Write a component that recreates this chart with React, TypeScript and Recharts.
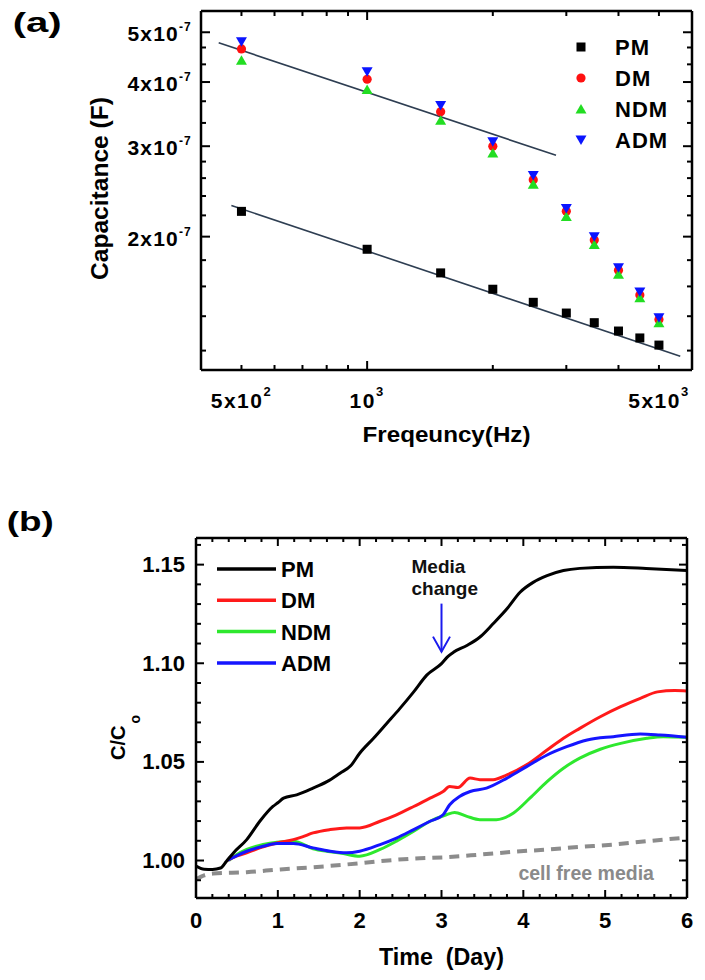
import React from 'react';
import { ComposedChart, Scatter, Line, XAxis, YAxis, Legend, ReferenceDot, Label } from 'recharts';

const FONT = '"Liberation Sans", Arial, Helvetica, sans-serif';

// ---------- (a) capacitance vs frequency (capacitance in units of 1e-7 F) ----------
const freqs = [500, 1000, 1500, 2000, 2500, 3000, 3500, 4000, 4500, 5000];
const capPM = [2.24, 1.89, 1.7, 1.58, 1.49, 1.42, 1.36, 1.31, 1.27, 1.23];
const capDM = [4.64, 4.05, 3.5, 3.0, 2.58, 2.24, 1.97, 1.72, 1.54, 1.38];
const capNDM = [4.41, 3.87, 3.37, 2.91, 2.53, 2.19, 1.93, 1.69, 1.52, 1.36];
const capADM = [4.79, 4.19, 3.6, 3.06, 2.63, 2.27, 2.0, 1.74, 1.56, 1.39];

// power-law fit lines (end points)
const fitUpperF = [441, 2834];
const fitUpperC = [4.77, 2.88];
const fitLowerF = [473, 5623];
const fitLowerC = [2.3, 1.17];

const freqTicks = [500, 600, 700, 800, 900, 1000, 2000, 3000, 4000, 5000];
const freqMajor = [1000];
const freqLabels: Record<number, [string, string]> = {
  500: ['5x10', '2'],
  1000: ['10', '3'],
  5000: ['5x10', '3'],
};
const capTicks = [1.2, 1.4, 1.6, 1.8, 2, 2.2, 2.4, 2.6, 2.8, 3, 3.33, 3.67, 4, 4.33, 4.67, 5];
const capLabeled = [2, 3, 4, 5];

// ---------- (b) normalised capacitance vs time ----------
const pmDays = [0, 0.1, 0.2, 0.3, 0.375, 0.46, 0.62, 0.78, 0.94, 1.0, 1.07, 1.23, 1.43, 1.6, 1.76, 1.89, 2.0, 2.17, 2.33, 2.49, 2.66, 2.82, 3.0, 3.08, 3.15, 3.31, 3.47, 3.63, 3.8, 3.96, 4.12, 4.29, 4.49, 4.69, 5.1, 5.5, 6.0];
const pmVals = [0.9972, 0.9956, 0.9955, 0.9962, 0.9998, 1.004, 1.0106, 1.0199, 1.0274, 1.0293, 1.0316, 1.0333, 1.0367, 1.04, 1.0443, 1.048, 1.0544, 1.062, 1.0695, 1.077, 1.0855, 1.094, 1.0998, 1.1035, 1.1057, 1.109, 1.1133, 1.12, 1.1276, 1.136, 1.141, 1.1444, 1.147, 1.1481, 1.1487, 1.1481, 1.147];

const dmDays = [0.38, 0.45, 0.62, 0.78, 0.99, 1.19, 1.3, 1.43, 1.64, 1.84, 2.0, 2.25, 2.45, 2.66, 2.86, 3.02, 3.1, 3.2, 3.35, 3.47, 3.63, 3.8, 4.04, 4.29, 4.49, 4.69, 4.94, 5.19, 5.43, 5.64, 5.85, 6.0];
const dmVals = [1.0, 1.0015, 1.0039, 1.0064, 1.0089, 1.0106, 1.012, 1.014, 1.0157, 1.0165, 1.0165, 1.0199, 1.0232, 1.0274, 1.0316, 1.035, 1.0375, 1.037, 1.0418, 1.041, 1.041, 1.0434, 1.0485, 1.056, 1.062, 1.067, 1.0729, 1.078, 1.0822, 1.0855, 1.0862, 1.086];

const ndmDays = [0.4, 0.5, 0.62, 0.82, 0.99, 1.19, 1.43, 1.64, 1.8, 2.0, 2.25, 2.45, 2.66, 2.86, 3.06, 3.16, 3.31, 3.47, 3.67, 3.88, 4.08, 4.29, 4.49, 4.69, 4.94, 5.19, 5.51, 5.71, 6.0];
const ndmVals = [1.0, 1.003, 1.0056, 1.0081, 1.0093, 1.0098, 1.006, 1.0045, 1.0035, 1.0022, 1.0056, 1.0098, 1.0148, 1.0199, 1.0232, 1.0244, 1.0224, 1.0207, 1.0207, 1.0241, 1.0316, 1.04, 1.0468, 1.0519, 1.0564, 1.0594, 1.062, 1.0628, 1.0625];

const admDays = [0.38, 0.5, 0.62, 0.82, 0.99, 1.19, 1.43, 1.64, 1.84, 2.0, 2.25, 2.45, 2.66, 2.86, 3.02, 3.1, 3.22, 3.35, 3.55, 3.8, 4.04, 4.29, 4.53, 4.78, 5.1, 5.43, 5.67, 6.0];
const admVals = [1.0, 1.0025, 1.0047, 1.0072, 1.0086, 1.0086, 1.0064, 1.0047, 1.0039, 1.0047, 1.0081, 1.0114, 1.0157, 1.0199, 1.0232, 1.0283, 1.0325, 1.035, 1.0367, 1.0418, 1.0476, 1.0535, 1.0577, 1.0611, 1.0628, 1.0641, 1.0636, 1.0625];

const freeDays = [0, 0.1, 0.21, 0.62, 1.03, 1.43, 1.84, 2.25, 2.66, 3.06, 3.47, 3.88, 4.29, 4.69, 5.1, 5.51, 5.95];
const freeVals = [0.9905, 0.9925, 0.9934, 0.9941, 0.9955, 0.9966, 0.998, 0.9997, 1.001, 1.0017, 1.003, 1.0044, 1.0056, 1.0069, 1.0081, 1.0098, 1.0115];

const dayTicks = [0, 0.2, 0.4, 0.6, 0.8, 1, 1.2, 1.4, 1.6, 1.8, 2, 2.2, 2.4, 2.6, 2.8, 3, 3.2, 3.4, 3.6, 3.8, 4, 4.2, 4.4, 4.6, 4.8, 5, 5.2, 5.4, 5.6, 5.8, 6];
const dayLabels = [0, 1, 2, 3, 4, 5, 6];
const ratioTicks = [0.99, 1.0, 1.01, 1.02, 1.03, 1.04, 1.05, 1.06, 1.07, 1.08, 1.09, 1.1, 1.11, 1.12, 1.13, 1.14, 1.15, 1.16];
const ratioLabels = [1.0, 1.05, 1.1, 1.15];

const capSeries = [
  { name: 'PM', kind: 'square', color: '#000000', values: capPM },
  { name: 'DM', kind: 'circle', color: '#ff1010', values: capDM },
  { name: 'NDM', kind: 'up', color: '#22dd22', values: capNDM },
  { name: 'ADM', kind: 'down', color: '#0a14ff', values: capADM },
];

const timeSeries = [
  { name: 'PM', color: '#000000', days: pmDays, values: pmVals },
  { name: 'DM', color: '#ff1a1a', days: dmDays, values: dmVals },
  { name: 'NDM', color: '#2ee82e', days: ndmDays, values: ndmVals },
  { name: 'ADM', color: '#1515ff', days: admDays, values: admVals },
];

const toPoints = (xs: number[], ys: number[]) => xs.map((x, i) => ({ x, y: ys[i] }));

function Marker({ kind, cx, cy, color }: { kind: string; cx: number; cy: number; color: string }) {
  if (kind === 'square') return <rect x={cx - 4.5} y={cy - 4.5} width={9} height={9} fill={color} />;
  if (kind === 'circle') return <circle cx={cx} cy={cy} r={4.6} fill={color} />;
  if (kind === 'up') return <path d={`M${cx - 5.5},${cy + 4.5}L${cx + 5.5},${cy + 4.5}L${cx},${cy - 5}Z`} fill={color} />;
  return <path d={`M${cx - 5.5},${cy - 4.5}L${cx + 5.5},${cy - 4.5}L${cx},${cy + 5}Z`} fill={color} />;
}

const txt = { fontFamily: FONT, fontWeight: 'bold' as const, fill: '#000' };

// ---- ticks for (a) ----
function FreqTick({ x, y, payload, side }: any) {
  const v = payload.value;
  const len = freqMajor.includes(v) ? 9 : 5;
  const lab = freqLabels[v];
  const dir = side === 'top' ? 1 : -1;
  return (
    <g>
      <line x1={x} y1={y} x2={x} y2={y + dir * len} stroke="#000" strokeWidth={2} />
      {side === 'bottom' && lab && (
        <text x={x} y={y + 38} textAnchor="middle" fontSize={21} letterSpacing={1.5} {...txt}>
          {lab[0]}
          <tspan fontSize={13} dy={-12}>{lab[1]}</tspan>
        </text>
      )}
    </g>
  );
}

function CapTick({ x, y, payload, side }: any) {
  const v = payload.value;
  const major = capLabeled.includes(v);
  const len = major ? 9 : 5;
  const dir = side === 'left' ? 1 : -1;
  return (
    <g>
      <line x1={x} y1={y} x2={x + dir * len} y2={y} stroke="#000" strokeWidth={2} />
      {side === 'left' && major && (
        <text x={x - 9} y={y + 9} textAnchor="end" fontSize={21} letterSpacing={1.2} {...txt}>
          {`${v}x10`}
          <tspan fontSize={12} dy={-10}>-7</tspan>
        </text>
      )}
    </g>
  );
}

// ---- ticks for (b) ----
function DayTick({ x, y, payload, side }: any) {
  const v = payload.value;
  const major = dayLabels.includes(v);
  const len = major ? 8 : 4;
  const dir = side === 'top' ? 1 : -1;
  return (
    <g>
      <line x1={x} y1={y} x2={x} y2={y + dir * len} stroke="#000" strokeWidth={2} />
      {side === 'bottom' && major && (
        <text x={x} y={y + 30} textAnchor="middle" fontSize={22} {...txt}>
          {v}
        </text>
      )}
    </g>
  );
}

function RatioTick({ x, y, payload, side }: any) {
  const v = payload.value;
  const major = ratioLabels.some((r) => Math.abs(r - v) < 1e-6);
  const len = major ? 8 : 5;
  const dir = side === 'left' ? 1 : -1;
  return (
    <g>
      <line x1={x} y1={y} x2={x + dir * len} y2={y} stroke="#000" strokeWidth={2} />
      {side === 'left' && major && (
        <text x={x - 11} y={y + 7.5} textAnchor="end" fontSize={22} {...txt}>
          {v.toFixed(2)}
        </text>
      )}
    </g>
  );
}

function CapLegend() {
  return (
    <svg width={130} height={125} style={{ display: 'block' }}>
      {capSeries.map((s, i) => (
        <g key={s.name}>
          <Marker kind={s.kind} cx={11} cy={16 + i * 31} color={s.color} />
          <text x={45} y={24 + i * 31} fontSize={22} letterSpacing={1} {...txt}>
            {s.name}
          </text>
        </g>
      ))}
    </svg>
  );
}

function TimeLegend() {
  return (
    <svg width={150} height={130} style={{ display: 'block' }}>
      {timeSeries.map((s, i) => (
        <g key={s.name}>
          <line x1={6} x2={65} y1={19 + i * 31.3} y2={19 + i * 31.3} stroke={s.color} strokeWidth={3.5} />
          <text x={70} y={27 + i * 31.3} fontSize={22} {...txt}>
            {s.name}
          </text>
        </g>
      ))}
    </svg>
  );
}

function MediaChange({ cx, cy }: any) {
  const blue = '#1a1aee';
  return (
    <g>
      <line x1={cx} y1={cy - 48} x2={cx} y2={cy} stroke={blue} strokeWidth={2} />
      <path d={`M${cx - 8.5},${cy - 15}L${cx},${cy}L${cx + 8.5},${cy - 15}`} fill="none" stroke={blue} strokeWidth={2} />
      <text x={cx - 30} y={cy - 78.5} fontSize={19} {...txt} fill="#111">Media</text>
      <text x={cx - 30} y={cy - 57} fontSize={19} {...txt} fill="#111">change</text>
    </g>
  );
}

function CellFree({ cx, cy }: any) {
  return (
    <text x={cx} y={cy + 7} fontSize={19.5} {...txt} fill="#8a8a8a">
      cell free media
    </text>
  );
}

const axisLine = { stroke: '#000', strokeWidth: 2.5 };

function CapacitanceChart() {
  return (
    <ComposedChart width={705} height={460} margin={{ top: 10, right: 12, bottom: 0, left: 0 }}>
      <XAxis xAxisId="b" type="number" dataKey="x" scale="log" domain={[400, 6000]} allowDataOverflow
        ticks={freqTicks} interval={0} tickSize={0} tickMargin={0} tickLine={false} axisLine={axisLine}
        height={90} tick={(p: any) => <FreqTick {...p} side="bottom" />}>
        <Label content={({ viewBox }: any) => (
          <text x={viewBox.x + viewBox.width / 2} y={viewBox.y + 72} textAnchor="middle" fontSize={22}
            textLength={168} lengthAdjust="spacingAndGlyphs" {...txt}>Freqeuncy(Hz)</text>
        )} />
      </XAxis>
      <XAxis xAxisId="t" orientation="top" type="number" dataKey="x" scale="log" domain={[400, 6000]} allowDataOverflow
        ticks={freqTicks} interval={0} tickSize={0} tickMargin={0} tickLine={false} axisLine={axisLine}
        height={1} tick={(p: any) => <FreqTick {...p} side="top" />} />
      <YAxis yAxisId="l" type="number" dataKey="y" scale="log" domain={[1.1, 5.5]} allowDataOverflow
        ticks={capTicks} interval={0} tickSize={0} tickMargin={0} tickLine={false} axisLine={axisLine}
        width={201} tick={(p: any) => <CapTick {...p} side="left" />}>
        <Label content={({ viewBox }: any) => {
          const cx = 108;
          const cy = viewBox.y + viewBox.height / 2 - 2;
          return (
            <text x={cx} y={cy} transform={`rotate(-90 ${cx} ${cy})`} textAnchor="middle" fontSize={23}
              textLength={183} lengthAdjust="spacingAndGlyphs" {...txt}>Capacitance (F)</text>
          );
        }} />
      </YAxis>
      <YAxis yAxisId="r" orientation="right" type="number" dataKey="y" scale="log" domain={[1.1, 5.5]} allowDataOverflow
        ticks={capTicks} interval={0} tickSize={0} tickMargin={0} tickLine={false} axisLine={axisLine}
        width={1} tick={(p: any) => <CapTick {...p} side="right" />} />

      <Scatter xAxisId="b" yAxisId="l" data={toPoints(fitUpperF, fitUpperC)} fill="#2e3e52"
        line={{ stroke: '#2e3e52', strokeWidth: 1.6 }} shape={() => <g />} isAnimationActive={false} />
      <Scatter xAxisId="b" yAxisId="l" data={toPoints(fitLowerF, fitLowerC)} fill="#2e3e52"
        line={{ stroke: '#2e3e52', strokeWidth: 1.6 }} shape={() => <g />} isAnimationActive={false} />
      {capSeries.map((s) => (
        <Scatter key={s.name} name={s.name} xAxisId="b" yAxisId="l" data={toPoints(freqs, s.values)} fill={s.color}
          shape={(p: any) => <Marker kind={s.kind} cx={p.cx} cy={p.cy} color={s.color} />} isAnimationActive={false} />
      ))}
      <Legend layout="vertical" align="center" verticalAlign="middle" content={() => <CapLegend />}
        wrapperStyle={{ position: 'absolute', left: 570, top: 31, width: 130 }} />
    </ComposedChart>
  );
}

function TimeChart() {
  return (
    <ComposedChart width={705} height={490} margin={{ top: 47, right: 17, bottom: 0, left: 0 }}>
      <XAxis xAxisId="b" type="number" dataKey="x" domain={[0, 6]} allowDataOverflow
        ticks={dayTicks} interval={0} tickSize={0} tickMargin={0} tickLine={false} axisLine={axisLine}
        height={82} tick={(p: any) => <DayTick {...p} side="bottom" />}>
        <Label content={({ viewBox }: any) => (
          <text x={viewBox.x + viewBox.width / 2} y={viewBox.y + 67} textAnchor="middle" fontSize={23}
            textLength={125} lengthAdjust="spacingAndGlyphs" {...txt} style={{ whiteSpace: 'pre' }}>{'Time  (Day)'}</text>
        )} />
      </XAxis>
      <XAxis xAxisId="t" orientation="top" type="number" dataKey="x" domain={[0, 6]} allowDataOverflow
        ticks={dayTicks} interval={0} tickSize={0} tickMargin={0} tickLine={false} axisLine={axisLine}
        height={1} tick={(p: any) => <DayTick {...p} side="top" />} />
      <YAxis yAxisId="l" type="number" dataKey="y" domain={[0.981, 1.1635]} allowDataOverflow
        ticks={ratioTicks} interval={0} tickSize={0} tickMargin={0} tickLine={false} axisLine={axisLine}
        width={196} tick={(p: any) => <RatioTick {...p} side="left" />}>
        <Label content={({ viewBox }: any) => {
          const cx = 125;
          const cy = viewBox.y + 222;
          return (
            <text x={cx} y={cy} transform={`rotate(-90 ${cx} ${cy})`} textAnchor="start" fontSize={20} {...txt}>
              C/C<tspan fontSize={14} dx={2} dy={15}>o</tspan>
            </text>
          );
        }} />
      </YAxis>
      <YAxis yAxisId="r" orientation="right" type="number" dataKey="y" domain={[0.981, 1.1635]} allowDataOverflow
        ticks={ratioTicks} interval={0} tickSize={0} tickMargin={0} tickLine={false} axisLine={axisLine}
        width={1} tick={(p: any) => <RatioTick {...p} side="right" />} />

      <Line xAxisId="b" yAxisId="l" data={toPoints(freeDays, freeVals)} dataKey="y" type="monotone"
        stroke="#8c8c8c" strokeWidth={4} strokeDasharray="10 7" dot={false} isAnimationActive={false} />
      {[2, 1, 3, 0].map((i) => {
        const s = timeSeries[i];
        return (
          <Line key={s.name} name={s.name} xAxisId="b" yAxisId="l" data={toPoints(s.days, s.values)} dataKey="y"
            type="monotone" stroke={s.color} strokeWidth={3} dot={false} isAnimationActive={false} />
        );
      })}
      <ReferenceDot xAxisId="b" yAxisId="l" x={3} y={1.1059} r={0} shape={(p: any) => <MediaChange {...p} />} />
      <ReferenceDot xAxisId="b" yAxisId="l" x={3.94} y={0.9938} r={0} shape={(p: any) => <CellFree {...p} />} />
      <Legend layout="vertical" align="center" verticalAlign="middle" content={() => <TimeLegend />}
        wrapperStyle={{ position: 'absolute', left: 211, top: 60, width: 150 }} />
    </ComposedChart>
  );
}

export default function App() {
  return (
    <div style={{ position: 'absolute', left: 0, top: 0, width: 705, height: 980, background: '#fff' }}>
      <div style={{ position: 'absolute', left: 0, top: 0 }}>
        <CapacitanceChart />
      </div>
      <div style={{ position: 'absolute', left: 0, top: 490 }}>
        <TimeChart />
      </div>
      <svg width={705} height={980} style={{ position: 'absolute', left: 0, top: 0, pointerEvents: 'none' }}>
        <text x={12.7} y={32} fontSize={27} textLength={49} lengthAdjust="spacingAndGlyphs" {...txt}>(a)</text>
        <text x={6.7} y={531} fontSize={27} textLength={47} lengthAdjust="spacingAndGlyphs" {...txt}>(b)</text>
      </svg>
    </div>
  );
}
